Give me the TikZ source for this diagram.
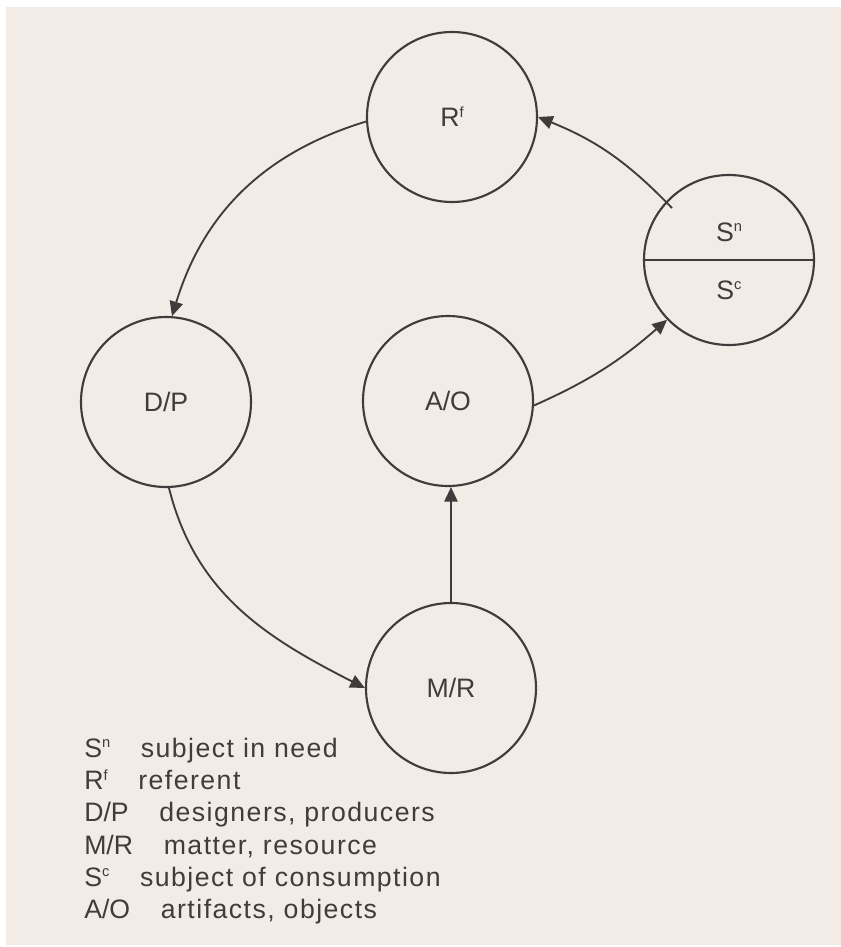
\documentclass[tikz,border=0pt]{standalone}
\usepackage{fontspec}
\setmainfont{Liberation Sans}
\newfontfamily\widefont[LetterSpace=5.5]{Liberation Sans}
\usetikzlibrary{arrows.meta}

\definecolor{paper}{RGB}{243,235,229}
\definecolor{ink}{RGB}{64,60,60}

\newcommand{\supr}[1]{\raisebox{7pt}{\fontsize{11pt}{11pt}\selectfont #1}}

\begin{document}
\begin{tikzpicture}[x=0.75pt, y=-0.75pt,
        stage/.style={circle, draw=ink, line width=1.6pt, minimum size=127.5pt, inner sep=0pt, text=ink},
        flow/.style={draw=ink, line width=1.4pt, -{Triangle[length=11pt, width=10pt]}},
        font=\fontsize{20pt}{24.2pt}\selectfont]
    \useasboundingbox (0,0) rectangle (841,947);
    \fill[paper] (6,7) rectangle (841,945);

    \node[stage] (rf) at (452,117) {R\supr{f}};
    \node[stage] (dp) at (166,402) {D/P};
    \node[stage] (ao) at (448,401) {A/O};
    \node[stage] (mr) at (451,688) {M/R};
    \node[stage] (s) at (729,260) {};
    \draw[ink, line width=1.6pt] (s.west) -- (s.east);
    \node[text=ink] (sn) at (729,232) {S\supr{n}};
    \node[text=ink] (sc) at (729,290) {S\supr{c}};
    \coordinate (sin) at (672,208);

    \draw[flow] (rf.183) to[out=197, in=73] (dp.86);
    \draw[flow] (dp.-88) to[out=-76, in=153] (mr.west);
    \draw[flow] (mr.north) -- (mr.north |- ao.south);
    \draw[flow] (ao.-3) to[out=24, in=221] (s.224);
    \draw[flow] (sin) to[out=134, in=-22] (rf.east);

    \node[anchor=north west, inner sep=0pt, align=left, text=ink] (legend) at (84,737.6) {
        S\supr{n}\hspace{23pt}{\widefont subject in need}\\
        R\supr{f}\hspace{23pt}{\widefont referent}\\
        D/P\hspace{23pt}{\widefont designers, producers}\\
        M/R\hspace{23pt}{\widefont matter, resource}\\
        S\supr{c}\hspace{23pt}{\widefont subject of consumption}\\
        A/O\hspace{23pt}{\widefont artifacts, objects}};
\end{tikzpicture}
\end{document}
